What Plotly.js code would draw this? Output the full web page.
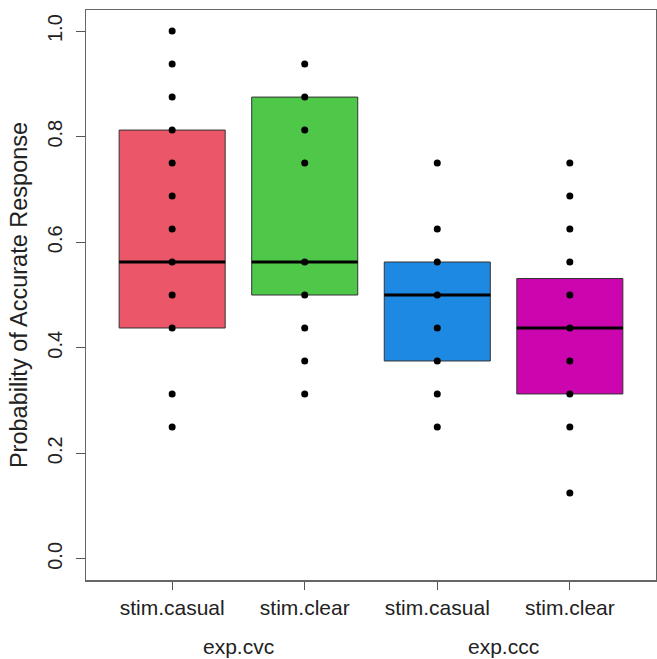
<!DOCTYPE html>
<html>
<head>
<meta charset="utf-8">
<script src="https://cdn.plot.ly/plotly-3.0.1.min.js"></script>
<style>html,body{margin:0;padding:0;background:#fff;}#chart{width:657px;height:659px;}</style>
</head>
<body>
<div id="chart"></div>
<script>
// positions and labels
const positions = [1, 2, 3, 4];
const stimLabels = ["stim.casual", "stim.clear", "stim.casual", "stim.clear"];
const expLabels = ["exp.cvc", "exp.ccc"];
const expGroups = [[1, 2], [3, 4]];
const colors = ["#EB5669", "#4FC84A", "#1E89E3", "#CB06AE"];

// box statistics
const q1 = [0.4375, 0.5, 0.375, 0.3125];
const median = [0.5625, 0.5625, 0.5, 0.4375];
const q3 = [0.8125, 0.875, 0.5625, 0.53125];

// observed values (dots)
const pts1 = [1.0, 0.9375, 0.875, 0.8125, 0.75, 0.6875, 0.625, 0.5625, 0.5, 0.4375, 0.3125, 0.25];
const pts2 = [0.9375, 0.875, 0.8125, 0.75, 0.5625, 0.5, 0.4375, 0.375, 0.3125];
const pts3 = [0.75, 0.625, 0.5625, 0.5, 0.4375, 0.375, 0.3125, 0.25];
const pts4 = [0.75, 0.6875, 0.625, 0.5625, 0.5, 0.4375, 0.375, 0.3125, 0.25, 0.125];
const allPts = [pts1, pts2, pts3, pts4];

const yTicks = [0, 0.2, 0.4, 0.6, 0.8, 1.0];

const traces = [];
positions.forEach((p, i) => {
  traces.push({
    type: "box",
    x: [p],
    q1: [q1[i]], median: [median[i]], q3: [q3[i]],
    lowerfence: [q1[i]], upperfence: [q3[i]],
    width: 0.8,
    whiskerwidth: 0,
    fillcolor: colors[i],
    line: {color: "#333333", width: 1},
    hoverinfo: "skip",
    showlegend: false
  });
  traces.push({
    type: "box",
    x: [p],
    q1: [median[i]], median: [median[i]], q3: [median[i]],
    lowerfence: [median[i]], upperfence: [median[i]],
    width: 0.8,
    whiskerwidth: 0,
    fillcolor: "rgba(0,0,0,0)",
    line: {color: "#000000", width: 3},
    hoverinfo: "skip",
    showlegend: false
  });
});
positions.forEach((p, i) => {
  traces.push({
    type: "scatter",
    mode: "markers",
    x: allPts[i].map(() => p),
    y: allPts[i],
    marker: {color: "#000000", size: 7},
    showlegend: false,
    hoverinfo: "y"
  });
});

const font = {family: "Liberation Sans, Arial, sans-serif", color: "#222222"};

const annotations = expLabels.map((t, k) => ({
  text: t,
  x: (expGroups[k][0] + expGroups[k][1]) / 2,
  xref: "x",
  y: 0,
  yref: "paper",
  yanchor: "middle",
  yshift: -66,
  showarrow: false,
  font: Object.assign({}, font, {size: 21})
}));

const layout = {
  width: 657,
  height: 659,
  margin: {l: 86, r: 1, t: 10, b: 79},
  paper_bgcolor: "#ffffff",
  plot_bgcolor: "#ffffff",
  showlegend: false,
  boxmode: "overlay",
  xaxis: {
    range: [0.35, 4.65],
    tickvals: positions,
    ticktext: stimLabels,
    ticks: "outside",
    ticklen: 8,
    tickcolor: "#555555",
    tickfont: Object.assign({}, font, {size: 21}),
    showgrid: false,
    zeroline: false,
    showline: true,
    mirror: true,
    linecolor: "#666666",
    linewidth: 1.5
  },
  yaxis: {
    range: [-0.04, 1.04],
    tickvals: yTicks,
    tickformat: ".1f",
    tickangle: -90,
    ticks: "outside",
    ticklen: 9,
    ticklabelstandoff: 6,
    tickcolor: "#555555",
    tickfont: Object.assign({}, font, {size: 20}),
    showgrid: false,
    zeroline: false,
    showline: true,
    mirror: true,
    linecolor: "#666666",
    linewidth: 1.5,
    title: {text: "Probability of Accurate Response", font: Object.assign({}, font, {size: 23.5}), standoff: 9}
  },
  annotations: annotations
};

Plotly.newPlot("chart", traces, layout, {displayModeBar: false, staticPlot: true});
</script>
</body>
</html>
